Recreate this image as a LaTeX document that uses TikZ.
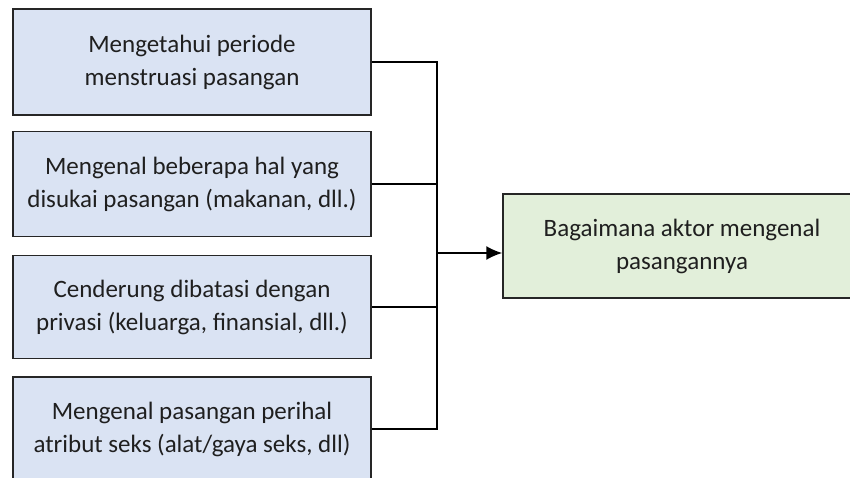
\documentclass[tikz,border=0pt]{standalone}
\usepackage{fontspec}
\setmainfont{Carlito}
\usetikzlibrary{arrows.meta}
\begin{document}
\begin{tikzpicture}[x=1pt,y=-1pt,
  box/.style={draw=black!85, line width=1.5pt, minimum width=358pt,
    minimum height=105pt, align=center, text=black!88,
    font=\fontsize{25}{33}\selectfont, inner sep=0pt},
  factor/.style={box, fill=factorfill},
  result/.style={box, fill=resultfill},
  link/.style={line width=1.6pt, black}]
\definecolor{factorfill}{HTML}{DAE3F3}
\definecolor{resultfill}{HTML}{E2EFDA}
\useasboundingbox (0,0) rectangle (850,478);
\begin{scope}
\clip (0,0) rectangle (850,478);
\node[factor, minimum height=106pt] (f1) at (192,62)
  {Mengetahui periode\\menstruasi pasangan};
\node[factor] (f2) at (192,184)
  {Mengenal beberapa hal yang\\disukai pasangan (makanan, dll.)};
\node[factor, minimum height=103pt] (f3) at (192,307)
  {Cenderung dibatasi dengan\\privasi (keluarga, finansial, dll.)};
\node[factor, minimum height=104pt] (f4) at (192,429)
  {Mengenal pasangan perihal\\atribut seks (alat/gaya seks, dll)};
\node[result, minimum height=104pt] (r) at (682,246)
  {Bagaimana aktor mengenal\\pasangannya};
\coordinate (bus) at (437,253);
\draw[link] (f1.east) -- (f1.east -| bus) -- (f4.east -| bus) -- (f4.east);
\draw[link] (f2.east) -- (f2.east -| bus);
\draw[link] (f3.east) -- (f3.east -| bus);
\draw[link, -{Latex[length=16pt,width=14pt]}] (bus) -- (bus -| r.west);
\end{scope}
\end{tikzpicture}
\end{document}
